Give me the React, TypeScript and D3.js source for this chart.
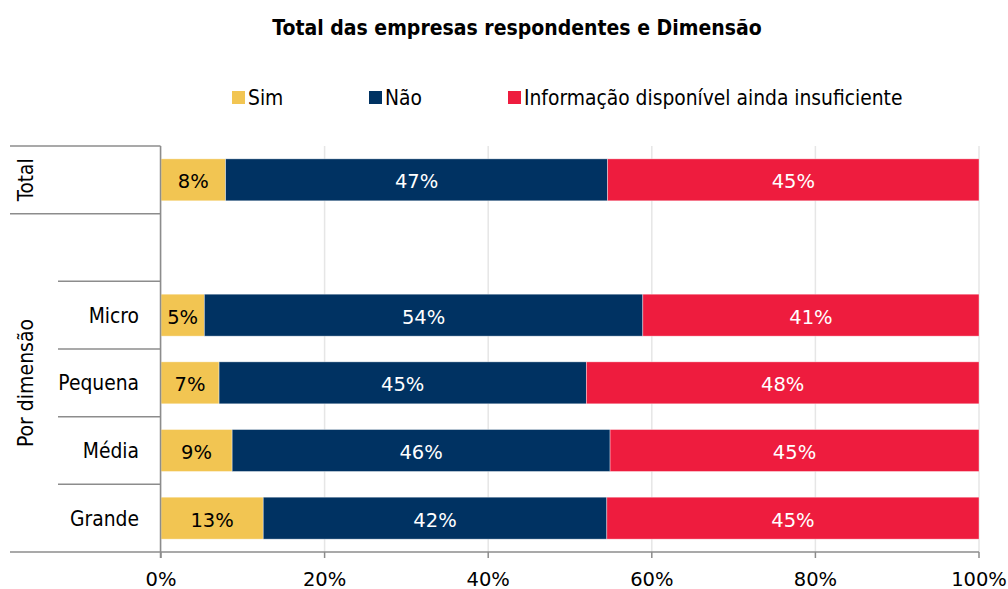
import React from "react";
import * as d3 from "d3";

const categories = ["Total", "", "Micro", "Pequena", "Média", "Grande"];
const seriesKeys = ["Sim", "Não", "Informação disponível ainda insuficiente"];
const simValues = [7.9, null, 5.3, 7.1, 8.7, 12.5];
const naoValues = [46.7, null, 53.6, 44.9, 46.2, 42.0];
const infoValues = [45.4, null, 41.1, 48.0, 45.1, 45.5];
const labelSim = ["8%", "", "5%", "7%", "9%", "13%"];
const labelNao = ["47%", "", "54%", "45%", "46%", "42%"];
const labelInfo = ["45%", "", "41%", "48%", "45%", "45%"];
const xTicks = [0, 20, 40, 60, 80, 100];
const colors = ["#F2C552", "#003262", "#EE1C3E"];
const title = "Total das empresas respondentes e Dimensão";

const FONT = "'DejaVu Sans', sans-serif";
const cond = { fontStretch: "condensed" } as React.CSSProperties;

export default function App() {
  const W = 1008, H = 589;
  const x = d3.scaleLinear().domain([0, 100]).range([161, 979]);
  const y = d3.scaleBand().domain(categories.map((c, i) => String(i))).range([146, 552]).paddingInner(0.38).paddingOuter(0.19);
  const rows = categories.map((c, i) => ({ idx: String(i), Sim: simValues[i] ?? 0, "Não": naoValues[i] ?? 0, info: infoValues[i] ?? 0, has: simValues[i] !== null }));
  const stack = d3.stack<any>().keys(["Sim", "Não", "info"]);
  const layers = stack(rows as any);
  const labels = [labelSim, labelNao, labelInfo];
  const step = (552 - 146) / categories.length;
  const sepY = d3.range(categories.length + 1).map((i) => 146 + i * step);
  const legendX = [232, 369, 508];

  return (
    <svg width={W} height={H} style={{ position: "fixed", left: 0, top: 0, background: "#fff" }} fontFamily={FONT}>
      <text x={517} y={35} textAnchor="middle" fontSize={21} fontWeight="bold" fill="#000" style={cond}>{title}</text>
      {seriesKeys.map((k, i) => (
        <g key={k}>
          <rect x={legendX[i]} y={91} width={13} height={13} fill={colors[i]} />
          <text x={legendX[i] + 16} y={105} fontSize={20.8} fill="#000" style={cond}>{k}</text>
        </g>
      ))}
      {xTicks.map((t) => (
        <line key={"g" + t} x1={x(t)} x2={x(t)} y1={146} y2={552} stroke="#E6E6E6" strokeWidth={1.5} />
      ))}
      {layers.map((layer, li) => (
        <g key={li}>
          {layer.map((d: any, ri: number) => rows[ri].has ? (
            <g key={ri}>
              <rect x={x(d[0])} y={y(String(ri))!} width={x(d[1]) - x(d[0])} height={y.bandwidth()} fill={colors[li]} stroke="rgba(255,255,255,0.5)" strokeWidth={0.75} />
              <text x={(x(d[0]) + x(d[1])) / 2} y={y(String(ri))! + y.bandwidth() / 2 + 8.5} textAnchor="middle" fontSize={19.5} fill={li === 0 ? "#000" : "#fff"}>{labels[li][ri]}</text>
            </g>
          ) : null)}
        </g>
      ))}
      {/* left axis */}
      <line x1={160.5} x2={160.5} y1={146} y2={558} stroke="#8C8C8C" strokeWidth={1.5} />
      {sepY.map((sy, i) => {
        const x0 = i <= 1 ? 10 : i === categories.length ? 10 : 58;
        return <line key={"s" + i} x1={x0} x2={160.5} y1={sy} y2={sy} stroke="#8C8C8C" strokeWidth={1.5} />;
      })}
      <line x1={160.5} x2={979} y1={552} y2={552} stroke="#8C8C8C" strokeWidth={1.5} />
      {xTicks.map((t) => (
        <g key={"t" + t}>
          <line x1={x(t)} x2={x(t)} y1={552} y2={558} stroke="#8C8C8C" strokeWidth={1.5} />
          <text x={x(t)} y={585.5} textAnchor="middle" fontSize={19.5} fill="#000">{t + "%"}</text>
        </g>
      ))}
      {categories.map((c, i) => c && i > 0 ? (
        <text key={"c" + i} x={139} y={y(String(i))! + y.bandwidth() / 2 + 7.5} textAnchor="end" fontSize={20.8} fill="#000" style={cond}>{c}</text>
      ) : null)}
      <text transform={`translate(33,${(sepY[0] + sepY[1]) / 2}) rotate(-90)`} textAnchor="middle" fontSize={20.5} fill="#000" style={cond}>Total</text>
      <text transform={`translate(33,383) rotate(-90)`} textAnchor="middle" fontSize={21} fill="#000" style={cond}>Por dimensão</text>
    </svg>
  );
}
